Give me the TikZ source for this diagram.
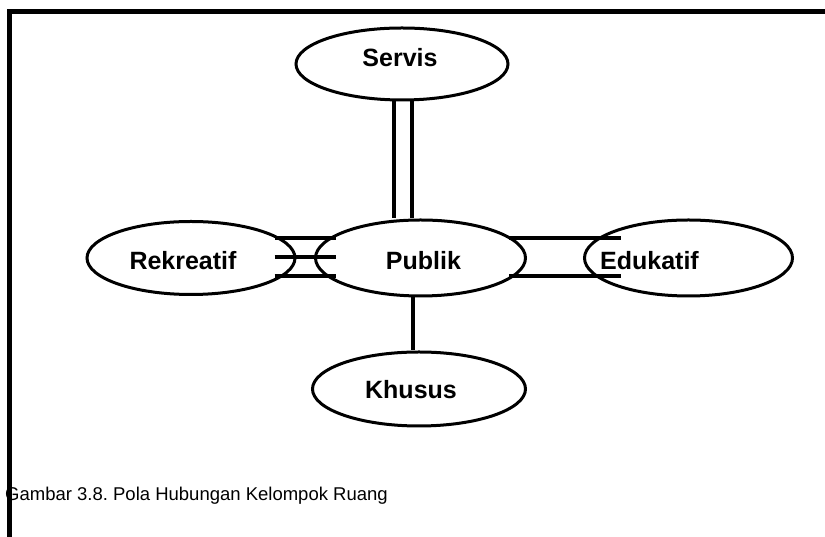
\documentclass[tikz,border=0pt]{standalone}
\usepackage{fontspec}
\setmainfont{Liberation Sans}
\usetikzlibrary{shapes.geometric}
\frenchspacing
\begin{document}
\begin{tikzpicture}[x=1pt, y=1pt,
        room/.style={ellipse, draw, line width=3pt, inner sep=0pt},
        roomtext/.style={font=\fontsize{25}{30}\selectfont\bfseries},
        link/.style={line width=4pt},
        caption/.style={font=\fontsize{18.5}{22}\selectfont, inner sep=0pt}
    ]
    \useasboundingbox (0,0) rectangle (825,537);
    % Nodes
    \node[room, minimum width=212pt, minimum height=72pt] (serv) at (402,473) {};
    \node[room, minimum width=210pt, minimum height=76pt] (pub) at (420.5,279) {};
    \node[room, minimum width=208pt, minimum height=73pt] (rek) at (191,279) {};
    \node[room, minimum width=208pt, minimum height=76pt] (edu) at (688.5,279) {};
    \node[room, minimum width=213pt, minimum height=74pt] (khu) at (419,148) {};
    % Texts
    \node[roomtext] (serv-t) at ([xshift=-2pt, yshift=6pt]serv.center) {Servis};
    \node[roomtext] (pub-t) at ([xshift=3pt, yshift=-3pt]pub.center) {Publik};
    \node[roomtext] (rek-t) at ([xshift=-8pt, yshift=-3pt]rek.center) {Rekreatif};
    \node[roomtext] (edu-t) at ([xshift=-39pt, yshift=-3pt]edu.center) {Edukatif};
    \node[roomtext] (khu-t) at ([xshift=-8pt, yshift=-1pt]khu.center) {Khusus};
    % Edges
    \draw[link] ([xshift=-8pt]serv.south) -- ([xshift=-8pt]serv.south |- pub.north);
    \draw[link] ([xshift=10pt]serv.south) -- ([xshift=10pt]serv.south |- pub.north);
    \draw[link] ([xshift=-8pt]pub.south) -- ([xshift=-8pt]pub.south |- khu.north);
    \foreach \dy in {20,1,-18}
        \draw[link] ([shift={(-22,\dy)}]rek.east) -- ([shift={(22,\dy)}]pub.west);
    \foreach \dy in {20,-18}
        \draw[link] ([shift={(-18,\dy)}]pub.east) -- ([shift={(38,\dy)}]edu.west);
    % Caption and frame
    \node[caption, anchor=base west] (cap) at (5,36) {Gambar 3.8. Pola Hubungan Kelompok Ruang};
    \draw[line width=5pt] (9.5,0) -- (9.5,525) -- (825,525);
\end{tikzpicture}
\end{document}
